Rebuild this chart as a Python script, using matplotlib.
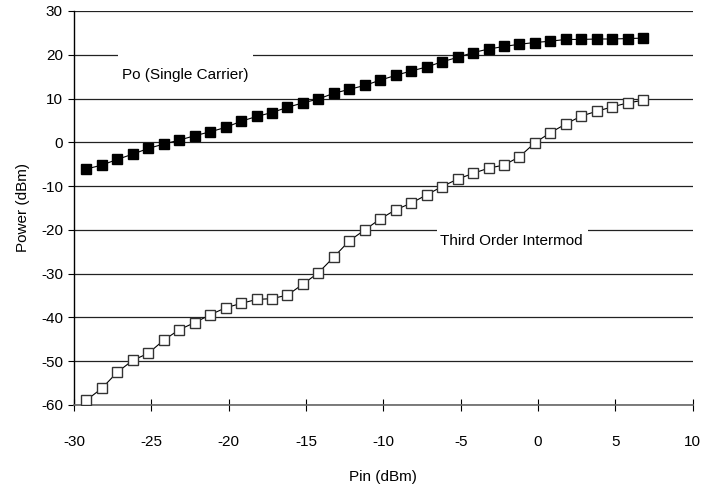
import matplotlib

matplotlib.use("Agg")
import matplotlib.pyplot as plt
from matplotlib.patches import Rectangle

plt.rcParams["font.family"] = ["Liberation Sans", "DejaVu Sans"]
plt.rcParams["axes.unicode_minus"] = False

# input power sweep (dBm)
pin = [-29.2, -28.2, -27.2, -26.2, -25.2, -24.2, -23.2, -22.2, -21.2, -20.2,
       -19.2, -18.2, -17.2, -16.2, -15.2, -14.2, -13.2, -12.2, -11.2, -10.2,
       -9.2, -8.2, -7.2, -6.2, -5.2, -4.2, -3.2, -2.2, -1.2, -0.2,
       0.8, 1.8, 2.8, 3.8, 4.8, 5.8, 6.8]

# output power, single carrier (dBm)
po_single = [-6.1, -5.2, -3.9, -2.7, -1.4, -0.4, 0.5, 1.5, 2.4, 3.4,
             4.8, 5.9, 6.8, 8.0, 9.0, 9.9, 11.2, 12.1, 13.0, 14.2,
             15.3, 16.3, 17.2, 18.4, 19.4, 20.5, 21.3, 21.9, 22.4, 22.8,
             23.1, 23.5, 23.5, 23.6, 23.6, 23.7, 23.8]

# third order intermod (dBm)
im3 = [-58.9, -56.2, -52.5, -49.8, -48.2, -45.2, -42.8, -41.2, -39.4, -37.8,
       -36.8, -35.9, -35.7, -34.9, -32.4, -29.8, -26.2, -22.5, -20.0, -17.5,
       -15.4, -13.9, -12.0, -10.1, -8.4, -7.1, -5.9, -5.2, -3.3, -0.1,
       2.2, 4.2, 6.0, 7.1, 8.1, 9.0, 9.6]

x_ticks = [-30, -25, -20, -15, -10, -5, 0, 5, 10]
y_ticks = [-60, -50, -40, -30, -20, -10, 0, 10, 20, 30]

fig = plt.figure(figsize=(7.17, 4.86), dpi=100)
ax = fig.add_axes([0.1032, 0.1667, 0.8629, 0.8107])

ax.plot(pin, po_single, color="black", lw=0.8, marker="s", markersize=7.5,
        markerfacecolor="black", markeredgecolor="black", zorder=3)
ax.plot(pin, im3, color="black", lw=0.8, marker="s", markersize=7.5,
        markerfacecolor="white", markeredgecolor="#333333", markeredgewidth=1,
        zorder=3)

ax.set_xlim(-30, 10)
ax.set_ylim(-60, 30)
ax.set_xticks(x_ticks)
ax.set_yticks(y_ticks)
ax.set_axisbelow(True)
ax.yaxis.grid(True, color="#222222", lw=0.9)

for s in ["top", "right"]:
    ax.spines[s].set_visible(False)
ax.spines["left"].set_linewidth(1.0)
ax.spines["bottom"].set_color("#666666")
ax.spines["bottom"].set_linewidth(1.2)

ax.tick_params(axis="y", direction="out", length=4, width=0.8, pad=4,
               labelsize=11)
ax.tick_params(axis="x", direction="inout", length=9, width=0.8, pad=17,
               labelsize=11)

# white boxes that break the gridlines behind the labels
ax.add_patch(Rectangle((-27.15, 13.5), 8.7, 7.2, facecolor="white",
                       edgecolor="none", zorder=1))
ax.add_patch(Rectangle((-6.55, -27.5), 9.75, 8.2, facecolor="white",
                       edgecolor="none", zorder=1))
ax.text(-26.9, 15.4, "Po (Single Carrier)", fontsize=11, va="center",
        ha="left", zorder=4)
ax.text(-6.34, -22.5, "Third Order Intermod", fontsize=11, va="center",
        ha="left", zorder=4)

ax.set_xlabel("Pin (dBm)", fontsize=11)
ax.set_ylabel("Power (dBm)", fontsize=11)
ax.xaxis.set_label_coords(0.5, -0.166)
ax.yaxis.set_label_coords(-0.071, 0.5)

fig.savefig("out.png", dpi=100)
